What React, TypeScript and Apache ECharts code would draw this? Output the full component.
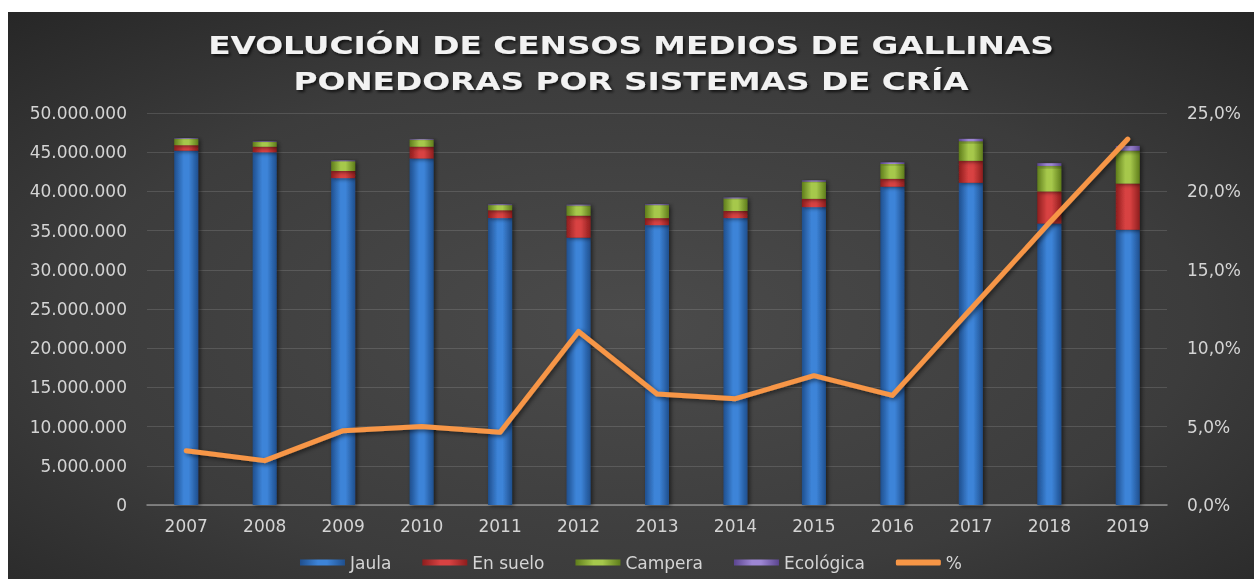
import React, { useEffect, useRef } from "react";
import * as echarts from "echarts";

const years = ["2007", "2008", "2009", "2010", "2011", "2012", "2013", "2014", "2015", "2016", "2017", "2018", "2019"];
const jaula = [45200000, 45000000, 41700000, 44200000, 36600000, 34100000, 35700000, 36600000, 38000000, 40600000, 41100000, 35900000, 35100000];
const enSuelo = [700000, 700000, 900000, 1500000, 1000000, 2800000, 900000, 900000, 1050000, 1000000, 2800000, 4100000, 5900000];
const campera = [800000, 600000, 1250000, 900000, 650000, 1300000, 1650000, 1600000, 2200000, 1900000, 2500000, 3250000, 4200000];
const ecologica = [80000, 80000, 90000, 90000, 90000, 100000, 100000, 110000, 150000, 200000, 300000, 350000, 600000];
const pct = [3.46, 2.83, 4.74, 5.0, 4.64, 11.07, 7.08, 6.78, 8.25, 6.99, 12.5, 18.0, 23.34];

const titleText = "EVOLUCIÓN DE CENSOS MEDIOS DE GALLINAS\nPONEDORAS POR SISTEMAS DE CRÍA";

const FONT = "'DejaVu Sans', sans-serif";
const LABEL = "#d4d4d4";

function grad(dark: string, light: string) {
  return {
    type: "linear",
    x: 0,
    y: 0,
    x2: 1,
    y2: 0,
    colorStops: [
      { offset: 0, color: dark },
      { offset: 0.4, color: light },
      { offset: 0.6, color: light },
      { offset: 1, color: dark },
    ],
  };
}

function fmtThousands(v: number) {
  const s = Math.round(v).toString();
  return s.replace(/\B(?=(\d{3})+(?!\d))/g, ".");
}

export default function App() {
  const ref = useRef<HTMLDivElement>(null);
  useEffect(() => {
    if (!ref.current) return;
    const chart = echarts.init(ref.current, undefined, { renderer: "svg" });
    const barCommon = {
      type: "bar",
      stack: "total",
      barWidth: 24,
      yAxisIndex: 0,
    };
    const shadow = {
      shadowBlur: 4,
      shadowColor: "rgba(0,0,0,0.55)",
      shadowOffsetX: 2,
      shadowOffsetY: 1,
    };
    chart.setOption({
      animation: false,
      backgroundColor: {
        type: "radial",
        x: 0.5,
        y: 0.55,
        r: 0.75,
        colorStops: [
          { offset: 0, color: "#4b4b4b" },
          { offset: 0.6, color: "#3c3c3c" },
          { offset: 1, color: "#262626" },
        ],
      },
      textStyle: { fontFamily: FONT },
      graphic: [
        {
          type: "text",
          x: 623,
          y: 51,
          scaleX: 1.31,
          scaleY: 1,
          style: {
            text: titleText,
            fill: "#f2f2f2",
            font: `bold 25px ${FONT}`,
            textAlign: "center",
            textVerticalAlign: "middle",
            lineHeight: 36,
            textShadowColor: "rgba(0,0,0,0.7)",
            textShadowBlur: 3,
            textShadowOffsetX: 2,
            textShadowOffsetY: 2,
          },
        },
      ],
      grid: { left: 139, right: 87, top: 101, bottom: 74, containLabel: false },
      legend: {
        top: 537,
        left: "center",
        itemWidth: 45,
        itemHeight: 6,
        itemGap: 31,
        textStyle: { color: LABEL, fontSize: 17, fontFamily: FONT },
        data: [
          { name: "Jaula", icon: "rect" },
          { name: "En suelo", icon: "rect" },
          { name: "Campera", icon: "rect" },
          { name: "Ecológica", icon: "rect" },
          { name: "%", icon: "roundRect" },
        ],
      },
      xAxis: {
        type: "category",
        data: years,
        axisLine: { lineStyle: { color: "#8f8f8f", width: 1.5 } },
        axisTick: { show: false },
        axisLabel: { color: LABEL, fontSize: 17, margin: 12, fontFamily: FONT },
      },
      yAxis: [
        {
          type: "value",
          min: 0,
          max: 50000000,
          interval: 5000000,
          axisLine: { show: false },
          axisTick: { show: false },
          splitLine: { lineStyle: { color: "rgba(255,255,255,0.13)", width: 1 } },
          axisLabel: {
            color: LABEL,
            fontSize: 17,
            margin: 20,
            fontFamily: FONT,
            formatter: (v: number) => fmtThousands(v),
          },
        },
        {
          type: "value",
          min: 0,
          max: 25,
          interval: 5,
          axisLine: { show: false },
          axisTick: { show: false },
          splitLine: { show: false },
          axisLabel: {
            color: LABEL,
            fontSize: 17,
            margin: 20,
            fontFamily: FONT,
            formatter: (v: number) => v.toFixed(1).replace(".", ",") + "%",
          },
        },
      ],
      series: [
        {
          ...barCommon,
          name: "Jaula",
          data: jaula,
          color: "#3a7bd0",
          itemStyle: { color: grad("#1f4f8e", "#3d84d8"), ...shadow },
        },
        {
          ...barCommon,
          name: "En suelo",
          data: enSuelo,
          color: "#d13b3b",
          itemStyle: { color: grad("#8e1d1d", "#d84242"), ...shadow },
        },
        {
          ...barCommon,
          name: "Campera",
          data: campera,
          color: "#98bf3f",
          itemStyle: { color: grad("#5f7d1b", "#a6c84c"), ...shadow },
        },
        {
          ...barCommon,
          name: "Ecológica",
          data: ecologica,
          color: "#8d73c9",
          itemStyle: { color: grad("#5b4590", "#9d86d4"), ...shadow },
        },
        {
          type: "line",
          name: "%",
          yAxisIndex: 1,
          data: pct,
          symbol: "none",
          color: "#f79646",
          itemStyle: { color: "#f79646" },
          lineStyle: {
            color: "#f79646",
            width: 5,
            cap: "round",
            join: "round",
            shadowBlur: 4,
            shadowColor: "rgba(0,0,0,0.5)",
            shadowOffsetX: 2,
            shadowOffsetY: 2,
          },
          z: 5,
        },
      ],
    });
    return () => chart.dispose();
  }, []);
  return (
    <div
      ref={ref}
      style={{ position: "fixed", left: 8, top: 12, width: 1246, height: 567 }}
    />
  );
}
